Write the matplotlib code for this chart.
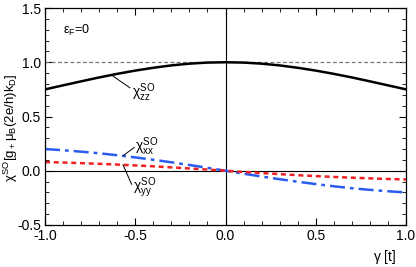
import matplotlib
matplotlib.use('Agg')
import matplotlib.pyplot as plt
from matplotlib.ticker import MultipleLocator

plt.rcParams['font.family'] = ['Liberation Sans', 'DejaVu Sans']
plt.rcParams['mathtext.fontset'] = 'custom'
plt.rcParams['mathtext.rm'] = 'Liberation Sans'
plt.rcParams['mathtext.it'] = 'Liberation Sans'

gamma = [-1.0, -0.9, -0.8, -0.7, -0.6, -0.5, -0.4, -0.3, -0.2, -0.1, 0.0,
         0.1, 0.2, 0.3, 0.4, 0.5, 0.6, 0.7, 0.8, 0.9, 1.0]
chi_zz = [0.750, 0.787, 0.824, 0.860, 0.893, 0.923, 0.949, 0.971, 0.987, 0.997, 1.000,
          0.997, 0.987, 0.971, 0.949, 0.923, 0.893, 0.860, 0.824, 0.787, 0.750]
chi_xx = [0.200, 0.189, 0.176, 0.161, 0.143, 0.123, 0.101, 0.078, 0.053, 0.027, 0.0,
          -0.027, -0.053, -0.078, -0.101, -0.123, -0.143, -0.161, -0.176, -0.189, -0.200]
chi_yy = [0.080, 0.076, 0.070, 0.064, 0.057, 0.049, 0.041, 0.031, 0.021, 0.011, 0.0,
          -0.011, -0.021, -0.031, -0.041, -0.049, -0.057, -0.064, -0.070, -0.076, -0.080]

fig = plt.figure(figsize=(4.16, 2.67), dpi=100)
ax = fig.add_axes([45 / 416, 42 / 267, 361 / 416, 217 / 267])

ax.axhline(1.0, color='#777777', lw=0.9, ls=(0, (3, 2)))
ax.axhline(0.0, color='black', lw=0.8)
ax.axvline(0.0, color='black', lw=0.8)

ax.plot(gamma, chi_zz, color='black', lw=1.8)
ax.plot(gamma, chi_xx, color='#2a5cf0', lw=1.8, ls=(0, (6, 2, 1.5, 2)))
ax.plot(gamma, chi_yy, color='#f02020', lw=1.8, ls=(0, (2, 1.5)))

# leader lines to labels
ax.plot([-0.623, -0.53], [0.872, 0.765], color='black', lw=0.7)
ax.plot([-0.568, -0.505], [0.138, 0.215], color='black', lw=0.7)
ax.plot([-0.568, -0.52], [0.055, -0.125], color='black', lw=0.7)

ax.text(-0.52, 0.72, r'$\chi^{\rm SO}_{\rm zz}$', fontsize=10, va='center')
ax.text(-0.50, 0.22, r'$\chi^{\rm SO}_{\rm xx}$', fontsize=10, va='center')
ax.text(-0.51, -0.16, r'$\chi^{\rm SO}_{\rm yy}$', fontsize=10, va='center')
ax.text(-0.90, 1.29, r'$\varepsilon_{\rm F}$=0', fontsize=9, va='center')

ax.set_xlim(-1, 1)
ax.set_ylim(-0.5, 1.5)
ax.xaxis.set_major_locator(MultipleLocator(0.5))
ax.xaxis.set_minor_locator(MultipleLocator(0.1))
ax.yaxis.set_major_locator(MultipleLocator(0.5))
ax.yaxis.set_minor_locator(MultipleLocator(0.1))
ax.xaxis.set_major_formatter(plt.FormatStrFormatter('%.1f'))
ax.yaxis.set_major_formatter(plt.FormatStrFormatter('%.1f'))
ax.tick_params(which='both', direction='in', top=True, right=True, labelsize=10)
ax.tick_params(which='major', length=5, width=0.8, pad=3)
ax.tick_params(which='minor', length=3, width=0.6)
for s in ax.spines.values():
    s.set_linewidth(0.9)

fig.text(11 / 416, 0.52, r'$\chi^{\rm SO}$[g$_+\mu_{\rm B}$(2e/h)k$_{\rm D}$]',
         fontsize=9.5, rotation=90, ha='center', va='center')
fig.text(385 / 416, 10 / 267, r'$\gamma$ [t]', fontsize=10, ha='center', va='center')

fig.savefig('out.png', dpi=100)
